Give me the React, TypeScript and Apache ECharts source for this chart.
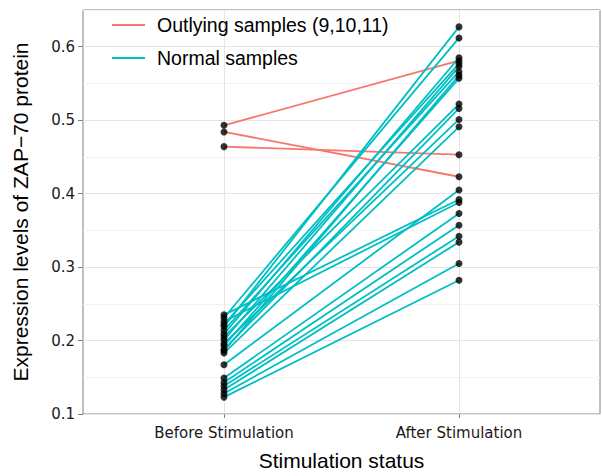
import React, { useEffect, useRef } from "react";
import * as echarts from "echarts";

// Discrete x positions (ggplot-style: categories at 1 and 2 of a 0.4..2.6 range)
const xLabels = ["Before Stimulation", "After Stimulation"];
const slotCount = 12;
const xSlots = [3, 8];

const normalBefore = [
  0.235, 0.231, 0.226, 0.222, 0.219, 0.214, 0.209, 0.205, 0.201, 0.196, 0.193,
  0.188, 0.186, 0.183, 0.167, 0.149, 0.143, 0.138, 0.133, 0.128, 0.123,
];
const normalAfter = [
  0.392, 0.612, 0.388, 0.577, 0.627, 0.566, 0.585, 0.522, 0.573, 0.501, 0.557,
  0.516, 0.561, 0.491, 0.405, 0.373, 0.357, 0.342, 0.334, 0.305, 0.282,
];
const outlyingBefore = [0.493, 0.484, 0.464];
const outlyingAfter = [0.581, 0.423, 0.453];

const yTicks = [0.1, 0.2, 0.3, 0.4, 0.5, 0.6];
const legendLabels = ["Outlying samples (9,10,11)", "Normal samples"];

const RED = "#F8766D";
const CYAN = "#00BFC4";
const SANS = "'Liberation Sans', Arial, sans-serif";
const DEJAVU = "'DejaVu Sans', sans-serif";

export default function App() {
  const ref = useRef<HTMLDivElement>(null);

  useEffect(() => {
    if (!ref.current) return;
    const chart = echarts.init(ref.current, null, { renderer: "svg" });

    const axisData = Array.from({ length: slotCount }, (_, i) => {
      const k = xSlots.indexOf(i);
      return k >= 0 ? xLabels[k] : "";
    });
    const isSlot = (i: number) => xSlots.indexOf(i) >= 0;

    const pairSeries = (before: number[], after: number[], color: string, name: string) =>
      before.map((b, i) => ({
        type: "line" as const,
        name,
        data: [
          [xSlots[0], b],
          [xSlots[1], after[i]],
        ],
        showSymbol: false,
        silent: true,
        lineStyle: { color, width: 1.8 },
        z: 2,
      }));

    const points: number[][] = [];
    [...outlyingBefore, ...normalBefore].forEach((v) => points.push([xSlots[0], v]));
    [...outlyingAfter, ...normalAfter].forEach((v) => points.push([xSlots[1], v]));

    const legendTop = 25;
    const legendGap = 33;

    chart.setOption({
      animation: false,
      grid: {
        left: 83,
        right: 2,
        top: 10,
        bottom: 59,
        show: true,
        borderColor: "#808080",
        borderWidth: 1,
      },
      xAxis: {
        type: "category",
        data: axisData,
        boundaryGap: false,
        name: "Stimulation status",
        nameLocation: "middle",
        nameGap: 36,
        nameTextStyle: { fontFamily: SANS, fontSize: 21, color: "#000" },
        axisLine: { show: false },
        axisTick: {
          show: true,
          length: 4,
          interval: (i: number) => isSlot(i),
          lineStyle: { color: "#808080" },
        },
        axisLabel: {
          interval: (i: number) => isSlot(i),
          fontFamily: DEJAVU,
          fontSize: 15,
          color: "#1a1a1a",
          margin: 11,
        },
        splitLine: {
          show: true,
          interval: (i: number) => isSlot(i),
          lineStyle: { color: "#E5E5E5", width: 1 },
        },
      },
      yAxis: {
        type: "value",
        min: 0.1,
        max: 0.65,
        interval: 0.1,
        name: "Expression levels of ZAP\u221270 protein",
        nameLocation: "middle",
        nameGap: 52,
        nameRotate: 90,
        nameTextStyle: { fontFamily: SANS, fontSize: 21, color: "#000" },
        axisLine: { show: false },
        axisTick: {
          show: true,
          length: 5,
          customValues: yTicks,
          lineStyle: { color: "#808080" },
        },
        axisLabel: {
          customValues: yTicks,
          formatter: (v: number) => v.toFixed(1),
          fontFamily: DEJAVU,
          fontSize: 15,
          color: "#1a1a1a",
          margin: 8,
        },
        splitLine: { show: true, lineStyle: { color: "#E5E5E5", width: 1 } },
        minorTick: { show: false, splitNumber: 2 },
        minorSplitLine: { show: true, lineStyle: { color: "#F3F3F3", width: 1 } },
      },
      series: [
        ...pairSeries(outlyingBefore, outlyingAfter, RED, legendLabels[0]),
        ...pairSeries(normalBefore, normalAfter, CYAN, legendLabels[1]),
        {
          type: "scatter",
          data: points,
          symbol: "circle",
          symbolSize: 7,
          itemStyle: { color: "#000" },
          silent: true,
          z: 5,
        },
      ],
      graphic: legendLabels.flatMap((label, i) => {
        const y = legendTop + i * legendGap;
        const color = i === 0 ? RED : CYAN;
        return [
          {
            type: "line",
            shape: { x1: 112, y1: y, x2: 145, y2: y },
            style: { stroke: color, lineWidth: 2 },
            z: 10,
          },
          {
            type: "text",
            x: 157,
            y,
            style: {
              text: label,
              fontFamily: SANS,
              fontSize: 19.5,
              fill: "#000",
              verticalAlign: "middle",
              align: "left",
            },
            z: 10,
          },
        ];
      }),
    });

    return () => chart.dispose();
  }, []);

  return (
    <div
      ref={ref}
      style={{ position: "absolute", left: 0, top: 0, width: 602, height: 476 }}
    />
  );
}
